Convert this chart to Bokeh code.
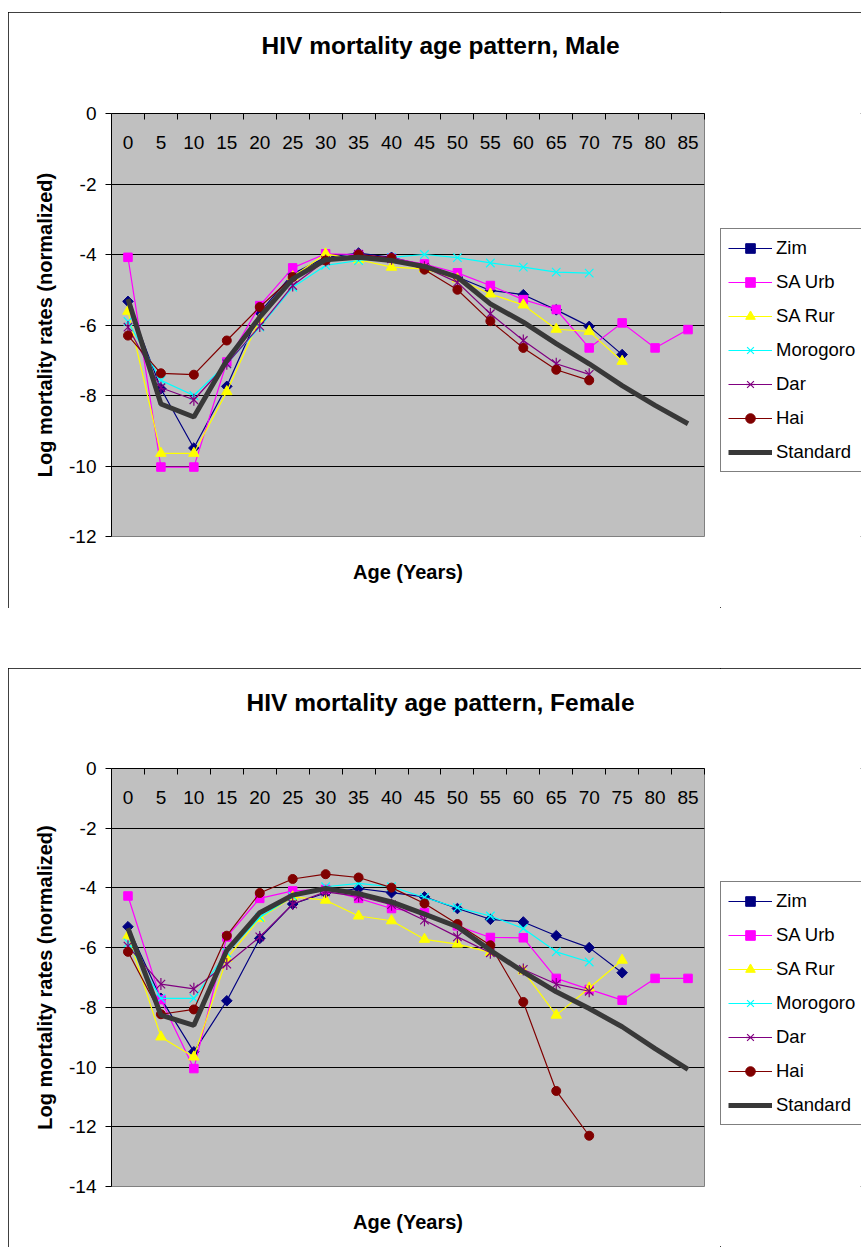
import math
from bokeh.plotting import figure
from bokeh.models import (Range1d, FixedTicker, LinearAxis, Legend, LegendItem,
                          Spacer, InlineStyleSheet)
from bokeh.layouts import column, row
from bokeh.embed import file_html
from bokeh.resources import INLINE

# ---------------- data ----------------
ages = [0, 5, 10, 15, 20, 25, 30, 35, 40, 45, 50, 55, 60, 65, 70, 75, 80, 85]
series_names = ["Zim", "SA Urb", "SA Rur", "Morogoro", "Dar", "Hai", "Standard"]

# Male
zim_m = [-5.33, -7.81, -9.49, -7.74, -5.64, -4.55, -4.08, -3.96, -4.08, -4.31,
         -4.64, -5.02, -5.14, -5.57, -6.04, -6.84]
saurb_m = [-4.08, -10.03, -10.03, -7.05, -5.45, -4.38, -3.98, -4.00, -4.10, -4.27,
           -4.52, -4.88, -5.28, -5.56, -6.65, -5.94, -6.65, -6.13]
sarur_m = [-5.61, -9.64, -9.64, -7.89, -5.83, -4.63, -3.98, -4.15, -4.36, -4.41,
           -4.69, -5.12, -5.43, -6.12, -6.18, -7.03]
moro_m = [-5.90, -7.57, -8.00, -7.10, -6.06, -4.93, -4.31, -4.17, -4.08, -4.00,
          -4.09, -4.24, -4.36, -4.50, -4.53]
dar_m = [-6.06, -7.78, -8.12, -7.10, -6.03, -4.88, -4.17, -4.00, -4.12, -4.36,
         -4.79, -5.68, -6.44, -7.10, -7.40]
hai_m = [-6.30, -7.37, -7.41, -6.44, -5.49, -4.64, -4.17, -4.00, -4.10, -4.43,
         -5.00, -5.89, -6.65, -7.27, -7.57]
std_m = [-5.26, -8.24, -8.61, -7.00, -5.78, -4.69, -4.15, -4.08, -4.17, -4.34,
         -4.64, -5.40, -5.92, -6.53, -7.10, -7.72, -8.28, -8.80]

# Female
zim_f = [-5.30, -7.70, -9.49, -7.78, -5.69, -4.54, -4.17, -4.02, -4.16, -4.30,
         -4.69, -5.05, -5.14, -5.60, -6.00, -6.84]
saurb_f = [-4.27, -7.74, -10.05, -5.64, -4.35, -4.10, -4.05, -4.35, -4.69, -4.82,
           -5.27, -5.66, -5.67, -7.03, -7.40, -7.76, -7.03, -7.03]
sarur_f = [-5.60, -8.99, -9.66, -6.36, -5.02, -4.30, -4.41, -4.94, -5.10, -5.72,
           -5.88, -6.16, -6.78, -8.26, -7.35, -6.42]
moro_f = [-5.84, -7.70, -7.70, -6.17, -4.99, -4.28, -3.96, -3.85, -3.96, -4.32,
          -4.66, -4.94, -5.36, -6.14, -6.48]
dar_f = [-5.95, -7.22, -7.38, -6.55, -5.64, -4.54, -4.13, -4.28, -4.56, -5.08,
         -5.64, -6.17, -6.73, -7.22, -7.46]
hai_f = [-6.14, -8.23, -8.07, -5.60, -4.17, -3.70, -3.54, -3.65, -3.99, -4.52,
         -5.21, -5.92, -7.82, -10.80, -12.30]
std_f = [-5.35, -8.26, -8.60, -6.09, -4.83, -4.24, -4.02, -4.19, -4.47, -4.88,
         -5.30, -6.09, -6.81, -7.48, -8.04, -8.65, -9.38, -10.08]

FONT = "Liberation Sans"
COLORS = ["#000080", "#FF00FF", "#FFFF00", "#00FFFF", "#800080", "#800000", "#383838"]


def add_series(p, name, xs, vals, color):
    """Draw one series (line + Excel-like markers) and return its renderers."""
    if name == "Standard":
        return [p.line(xs, vals, line_color=color, line_width=5)]
    rend = [p.line(xs, vals, line_color=color, line_width=1.2)]
    if name == "Zim":
        rend.append(p.scatter(xs, vals, marker="square", angle=math.pi / 4, size=7.5,
                              fill_color=color, line_color=color))
    elif name == "SA Urb":
        rend.append(p.scatter(xs, vals, marker="square", size=8.5,
                              fill_color=color, line_color=color))
    elif name == "SA Rur":
        rend.append(p.scatter(xs, vals, marker="triangle", size=10.5,
                              fill_color=color, line_color=color))
    elif name == "Morogoro":
        rend.append(p.scatter(xs, vals, marker="x", size=12,
                              line_color=color, line_width=1.2))
    elif name == "Dar":
        rend.append(p.scatter(xs, vals, marker="x", size=12,
                              line_color=color, line_width=1.2))
        rend.append(p.scatter(xs, vals, marker="dash", angle=math.pi / 2, size=12,
                              line_color=color, line_width=1.2))
    elif name == "Hai":
        rend.append(p.scatter(xs, vals, marker="circle", size=9,
                              fill_color=color, line_color=color))
    return rend


def make_chart(title, title_offset, data, ymin, height, min_top, min_bottom,
               title_gap, legend_vy):
    p = figure(width=712, height=height,
               x_range=Range1d(-2.5, 87.5), y_range=Range1d(ymin, 0),
               x_axis_location="above", y_axis_location="left",
               output_backend="svg", toolbar_location=None,
               min_border_left=103, min_border_right=16,
               min_border_top=min_top, min_border_bottom=min_bottom)
    p.background_fill_color = "#C0C0C0"
    p.border_fill_color = "white"
    p.outline_line_color = "#808080"

    # title
    p.title.text = title
    p.title.text_font = FONT
    p.title.text_font_size = "24.5px"
    p.title.text_font_style = "bold"
    p.title.text_color = "black"
    p.title.align = "left"
    p.title.offset = title_offset
    p.title.standoff = 10

    boundaries = [a + 2.5 for a in ages]

    # top category axis (labels inside the plot area, ticks between categories)
    xa = p.xaxis[0]
    xa.ticker = FixedTicker(ticks=ages, minor_ticks=boundaries)
    xa.major_tick_in = 0
    xa.major_tick_out = 0
    xa.major_tick_line_color = None
    xa.minor_tick_in = 6
    xa.minor_tick_out = 0
    xa.minor_tick_line_color = "black"
    xa.axis_line_color = "black"
    xa.major_label_standoff = -35
    xa.major_label_text_font = FONT
    xa.major_label_text_font_size = "19px"
    xa.major_label_text_color = "black"

    # spacer axis between the plot area and the title (invisible minor ticks only)
    gap = LinearAxis(ticker=FixedTicker(ticks=[], minor_ticks=boundaries),
                     axis_line_color=None,
                     major_tick_line_color="white", major_tick_line_alpha=0.01,
                     minor_tick_line_color="white", minor_tick_line_alpha=0.01,
                     major_tick_out=title_gap, major_tick_in=0,
                     minor_tick_out=title_gap, minor_tick_in=0,
                     major_label_standoff=0, major_label_text_font_size="0px")
    p.add_layout(gap, "above")

    # bottom axis title
    bx = LinearAxis(ticker=FixedTicker(ticks=[]), axis_label="Age (Years)",
                    axis_line_color=None, major_tick_line_color=None,
                    minor_tick_line_color=None, major_label_text_font_size="0px",
                    major_tick_out=0, major_tick_in=0, major_label_standoff=0,
                    axis_label_standoff=24, axis_label_text_font=FONT,
                    axis_label_text_font_style="bold", axis_label_text_font_size="20px",
                    axis_label_text_color="black")
    p.add_layout(bx, "below")

    # y axis
    yticks = list(range(0, ymin - 1, -2))
    ya = p.yaxis[0]
    ya.ticker = FixedTicker(ticks=yticks)
    ya.major_label_overrides = {t: str(t) for t in yticks}
    ya.major_tick_out = 6
    ya.major_tick_in = 0
    ya.major_tick_line_color = "black"
    ya.minor_tick_line_color = None
    ya.axis_line_color = "black"
    ya.major_label_standoff = 9
    ya.major_label_text_font = FONT
    ya.major_label_text_font_size = "19px"
    ya.major_label_text_color = "black"
    ya.axis_label = "Log mortality rates (normalized)"
    ya.axis_label_standoff = 10
    ya.axis_label_text_font = FONT
    ya.axis_label_text_font_style = "bold"
    ya.axis_label_text_font_size = "20px"
    ya.axis_label_text_color = "black"

    p.xgrid.visible = False
    p.ygrid.ticker = FixedTicker(ticks=list(range(-2, ymin + 1, -2)))
    p.ygrid.grid_line_color = "black"
    p.ygrid.grid_line_width = 1

    for name, vals, color in zip(series_names, data, COLORS):
        add_series(p, name, ages[:len(vals)], vals, color)

    # legend panel (separate figure at the right, inside the same chart box);
    # its series are the same data, lying outside this panel's visible range
    lg = figure(width=141, height=height, x_range=Range1d(0, 1), y_range=Range1d(0, 1),
                output_backend="svg", toolbar_location=None,
                min_border=0, min_border_left=0, min_border_right=0,
                min_border_top=0, min_border_bottom=0)
    lg.axis.visible = False
    lg.grid.visible = False
    lg.outline_line_color = None
    lg.background_fill_color = "white"
    lg.border_fill_color = "white"
    items = []
    for name, vals, color in zip(series_names, data, COLORS):
        rend = add_series(lg, name, ages[:len(vals)], vals, color)
        items.append(LegendItem(label=name, renderers=rend))
    legend = Legend(items=items, location=(0, legend_vy),
                    border_line_color="black", border_line_width=1,
                    background_fill_color="white", background_fill_alpha=1.0,
                    label_text_font=FONT, label_text_font_size="18.5px",
                    label_text_color="black",
                    glyph_width=44, glyph_height=24, label_standoff=4,
                    spacing=10, padding=7, margin=0)
    lg.add_layout(legend)

    box = row(p, lg)
    box.stylesheets = [InlineStyleSheet(css=":host { outline: 1px solid #000; outline-offset: -1px; }")]
    return box


male = [zim_m, saurb_m, sarur_m, moro_m, dar_m, hai_m, std_m]
female = [zim_f, saurb_f, sarur_f, moro_f, dar_f, hai_f, std_f]

b1 = make_chart("HIV mortality age pattern, Male", 150, male, -12, 596, 101, 72, 50, 64)
b2 = make_chart("HIV mortality age pattern, Female", 135, female, -14, 579, 100, 61, 48, 61)

layout = row(Spacer(width=8),
             column(Spacer(height=12), b1, Spacer(height=60), b2))
open("out.html", "w").write(file_html(layout, INLINE))
